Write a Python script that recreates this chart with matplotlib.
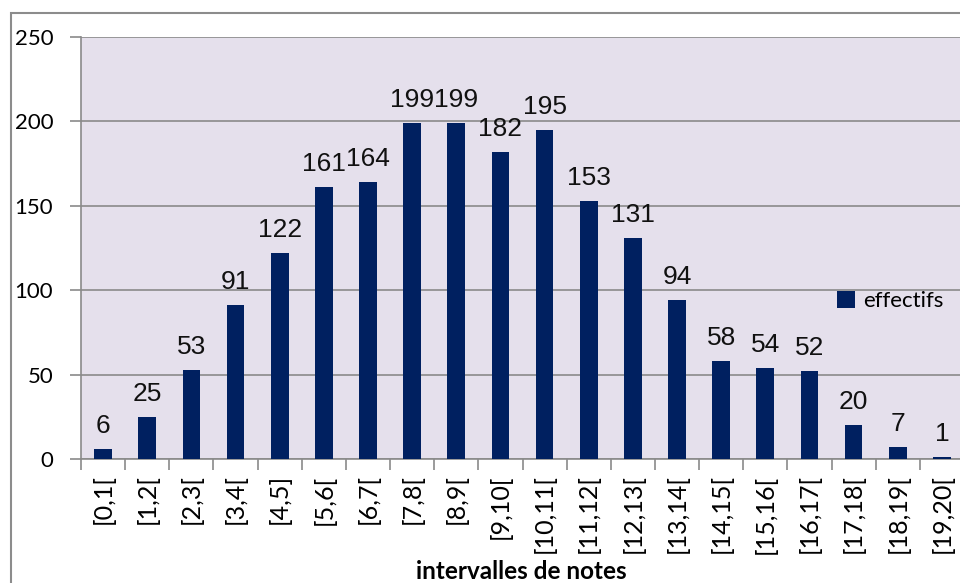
import numpy as np
import matplotlib.pyplot as plt
from matplotlib.patches import Rectangle

# bar chart of the number of marks per interval
intervalles = ['[0,1[', '[1,2[', '[2,3[', '[3,4[', '[4,5]', '[5,6[', '[6,7[',
               '[7,8[', '[8,9[', '[9,10[', '[10,11[', '[11,12[', '[12,13[',
               '[13,14[', '[14,15[', '[15,16[', '[16,17[', '[17,18[',
               '[18,19[', '[19,20[']
effectifs = [6, 25, 53, 91, 122, 161, 164, 199, 199, 182, 195, 153, 131,
             94, 58, 54, 52, 20, 7, 1]
yticks = [0, 50, 100, 150, 200, 250]

W, H = 960, 583
fig = plt.figure(figsize=(W / 100, H / 100), dpi=100)

# outer chart border (cut off at right and bottom like the screenshot)
fig.patches.append(Rectangle((11 / W, -0.1), 1.2, 1.1 - 13 / H,
                             transform=fig.transFigure, fill=False,
                             edgecolor='#8c8c8c', linewidth=1.5))

ax = fig.add_axes([81 / W, (H - 459) / H, 883 / W, 422 / H])
ax.set_facecolor('#e5e0ec')

x = np.arange(len(effectifs))
ax.bar(x, effectifs, width=0.4, color='#002060', label='effectifs', zorder=3)

for xi, v in zip(x, effectifs):
    ax.annotate(str(v), (xi, v), xytext=(0, 11.5), textcoords='offset points',
                ha='center', va='baseline', fontsize=19,
                family='Liberation Sans', color='#111111')

ax.set_xlim(-0.5, len(effectifs) - 0.5)
ax.set_ylim(0, 250)
ax.set_yticks(yticks)
ax.set_yticklabels([str(t) for t in yticks], family='Lato', fontsize=16)
ax.yaxis.grid(True, color='#8a8a8a', linewidth=1.2, zorder=0)

ax.set_xticks(x)
ax.set_xticklabels(intervalles, rotation=90, family='Lato', fontsize=18)
ax.set_xticks(np.arange(-0.5, len(effectifs)), minor=True)
ax.tick_params(axis='x', which='major', length=0, pad=11)
ax.tick_params(axis='x', which='minor', length=8, color='#8a8a8a', width=1.2)
ax.tick_params(axis='y', length=8, color='#8a8a8a', width=1.2, pad=12)

for s in ['top', 'right']:
    ax.spines[s].set_visible(False)
for s in ['left', 'bottom']:
    ax.spines[s].set_color('#8a8a8a')
    ax.spines[s].set_linewidth(1.2)

ax.set_xlabel('intervalles de notes', family='Lato', fontweight='bold',
              fontsize=17.5, va='baseline')
ax.xaxis.set_label_coords((521 - 81) / 883, -(579 - 459) / 422)

leg = ax.legend(loc='center left', bbox_to_anchor=((828 - 81) / 883, (459 - 301) / 422),
                frameon=False, handlelength=0.8, handleheight=0.8,
                handletextpad=0.4, borderaxespad=0,
                prop={'family': 'Lato', 'size': 16})

fig.savefig('out.png', dpi=100)
